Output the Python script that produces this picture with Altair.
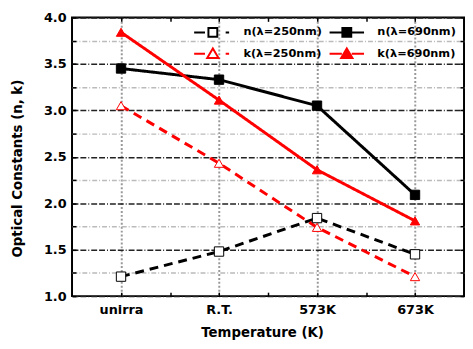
import json
import altair as alt
import pandas as pd

categories = ["unirra", "R.T.", "573K", "673K"]
series_names = ["n(λ=250nm)", "n(λ=690nm)", "k(λ=250nm)", "k(λ=690nm)"]
n_250 = [1.21, 1.48, 1.84, 1.45]
n_690 = [3.45, 3.33, 3.05, 2.09]
k_250 = [3.05, 2.43, 1.74, 1.21]
k_690 = [3.84, 3.11, 2.36, 1.81]

rows = []
for name, vals in zip(series_names, [n_250, n_690, k_250, k_690]):
    for i, (c, v) in enumerate(zip(categories, vals)):
        rows.append({"series": name, "cat": c, "idx": i, "value": v})
df = pd.DataFrame(rows)

colors = ["black", "black", "red", "red"]
dashes = [[9, 6], [1, 0], [9, 6], [1, 0]]
marker_shapes = ["square", "square", "triangle-up", "triangle-up"]
marker_fills = ["white", "black", "white", "red"]
marker_sizes = [90, 90, 120, 120]
legend_paths = [
    "M-3.8,0H-1.6M2.6,0H3.3M-0.9,-0.9H0.9V0.9H-0.9Z",
    "M-3.5,0H-0.9M0.9,0H3.5M-0.9,-0.9H0.9V0.9H-0.9Z",
    "M-3.8,0H-1.6M2.6,0H3.3M0,-1.1L1.15,0.85H-1.15Z",
    "M-3.5,0H-1M1,0H3.5M0,-1.1L1.15,0.85H-1.15Z",
]

x_ticks = [0, 0.5, 1, 1.5, 2, 2.5, 3]
y_ticks = [1 + 0.25 * i for i in range(13)]
cat_expr = json.dumps(categories)

xs = alt.Scale(domain=[-0.5, 3.5], nice=False, zero=False)
ys = alt.Scale(domain=[1.0, 4.0], nice=False, zero=False)

def sc(rng):
    return alt.Scale(domain=series_names, range=rng)

FONT = "DejaVu Sans"

x_main = alt.Axis(
    orient="bottom", values=x_ticks, offset=-4, tickSize=4, tickWidth=1.5,
    tickColor="black", domain=False, grid=True, gridDash=[2, 2], gridColor="#999999",
    gridWidth=2,
    gridOpacity={"condition": {"test": "datum.value % 1 === 0", "value": 1}, "value": 0},
    labelExpr=f"datum.value % 1 === 0 ? {cat_expr}[datum.value] : ''",
    labelPadding=8, labelFont=FONT, labelFontSize=13, labelFontWeight="bold",
    labelColor="black", title="Temperature (K)", titleFont=FONT, titleFontSize=13.5,
    titleFontWeight="bold", titleColor="black", titlePadding=9, titleX=193,
)
y_main = alt.Axis(
    orient="left", values=y_ticks, offset=-4, tickSize=4, tickWidth=1.5,
    tickColor="black", domain=False, grid=True, gridWidth=1.5,
    gridColor={"condition": {"test": "(datum.value * 2) % 1 === 0", "value": "#222222"}, "value": "#bbbbbb"},
    gridDash={"condition": {"test": "(datum.value * 2) % 1 === 0", "value": [6, 2, 6, 2, 1, 2]}, "value": [5, 2, 1, 2]},
    labelExpr="(datum.value * 2) % 1 === 0 ? format(datum.value, '.1f') : ''",
    labelPadding=6, labelFont=FONT, labelFontSize=13, labelFontWeight="bold",
    labelColor="black", title="Optical Constants (n, k)", titleFont=FONT,
    titleFontSize=13.5, titleFontWeight="bold", titleColor="black", titlePadding=19,
    titleY=153,
)
x_top = alt.Axis(orient="top", values=x_ticks, offset=-4, tickSize=4, tickWidth=1.5,
                 tickColor="black", domain=False, grid=False, labels=False, title=None)
y_right = alt.Axis(orient="right", values=y_ticks, offset=-4, tickSize=4, tickWidth=1.5,
                   tickColor="black", domain=False, grid=False, labels=False, title=None)

lines = alt.Chart(df).mark_line(strokeWidth=3).encode(
    x=alt.X("idx:Q", scale=xs, axis=x_main),
    y=alt.Y("value:Q", scale=ys, axis=y_main),
    color=alt.Color("series:N", scale=sc(colors), legend=None),
    strokeDash=alt.StrokeDash("series:N", scale=sc(dashes), legend=None),
    order=alt.Order("idx:Q"),
)

points = alt.Chart(df).mark_point(opacity=1, strokeWidth=1).encode(
    x=alt.X("idx:Q", scale=xs, axis=x_top),
    y=alt.Y("value:Q", scale=ys, axis=y_right),
    color=alt.Color("series:N", scale=sc(colors), legend=None),
    shape=alt.Shape("series:N", scale=sc(marker_shapes), legend=None),
    fill=alt.Fill("series:N", scale=sc(marker_fills), legend=None),
    size=alt.Size("series:N", scale=sc(marker_sizes), legend=None),
)

leg = dict(
    orient="none", legendX=137, legendY=9, columns=2, direction="horizontal",
    title=None, padding=0,
    labelFont=FONT, labelFontSize=11.5, labelFontWeight="bold", labelColor="black",
    labelOffset=25, columnPadding=3, rowPadding=3, symbolSize=100,
    symbolStrokeWidth=2,
)
legend_layer = alt.Chart(df).mark_point(opacity=1, strokeWidth=2).encode(
    color=alt.Color("series:N", scale=sc(colors), legend=alt.Legend(**leg)),
    shape=alt.Shape("series:N", scale=sc(legend_paths), legend=alt.Legend(**leg)),
    fill=alt.Fill("series:N", scale=sc(marker_fills), legend=alt.Legend(**leg)),
).transform_filter("false")

chart = alt.layer(lines, points, legend_layer).resolve_axis(
    x="independent", y="independent"
).resolve_scale(
    color="independent", shape="independent", fill="independent",
    strokeDash="independent", size="independent",
).properties(
    width=398, height=283,
    autosize=alt.AutoSizeParams(type="none"),
    padding={"left": 65, "top": 7, "right": 1, "bottom": 43},
    background="white",
).configure_view(stroke="black", strokeWidth=2)

chart.save("out.html", embed_options={"renderer": "svg", "actions": False})
